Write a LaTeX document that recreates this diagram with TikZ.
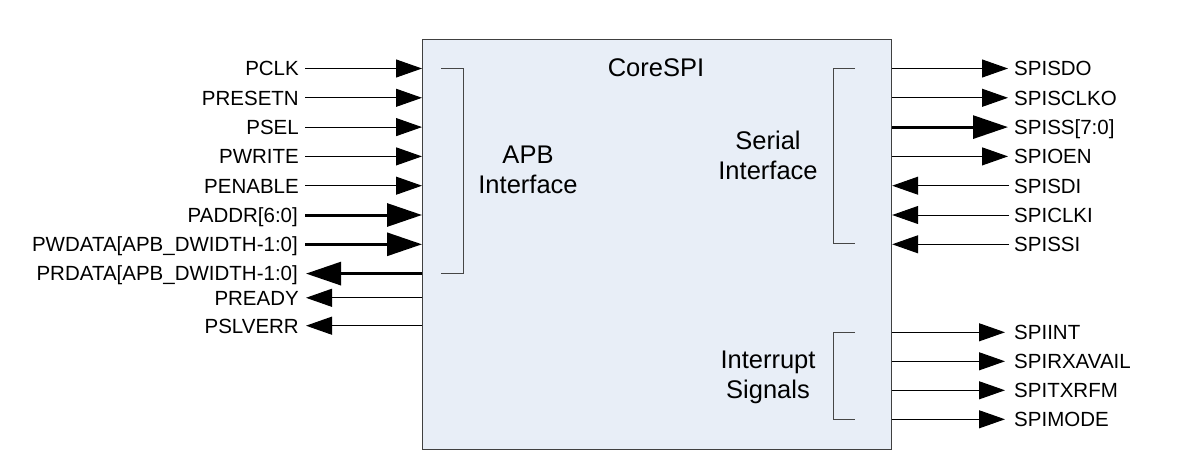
\documentclass[tikz,border=0pt]{standalone}
\usepackage{fontspec}
\setmainfont{Liberation Sans}
\usetikzlibrary{arrows.meta}
\definecolor{boxfill}{RGB}{232,238,247}
\definecolor{boxline}{RGB}{64,64,64}
\definecolor{brkline}{RGB}{70,70,70}
\tikzset{
  lbl/.style={font=\fontsize{20.5}{24}\selectfont, inner sep=0pt, text height=14.7pt, text depth=0pt},
  lblW/.style={lbl, anchor=east},
  lblE/.style={lbl, anchor=west},
  big/.style={font=\fontsize{25.5}{30}\selectfont, inner sep=0pt, text height=18.3pt, text depth=0pt, anchor=center},
  thinsig/.style={line width=1pt, draw=black, -{Triangle[length=26pt,width=18pt]}},
  thicksig/.style={line width=3pt, draw=black, -{Triangle[length=35pt,width=23pt]}},
  brk/.style={line width=1pt, draw=brkline},
}
\begin{document}
\begin{tikzpicture}[x=1pt,y=-1pt]
\useasboundingbox (0,0) rectangle (1193,476);
% main block
\node[draw=boxline, line width=1.2pt, fill=boxfill, minimum width=469pt, minimum height=410pt, inner sep=0pt, anchor=north west] (core) at (422,39) {};
\node[big] (title) at (656,67) {CoreSPI};
\node[big] (apbA) at (528,154) {APB};
\node[big] (apbB) at (528,184) {Interface};
\node[big] (serA) at (768,140) {Serial};
\node[big] (serB) at (768,170) {Interface};
\node[big] (intA) at (768,359.5) {Interrupt};
\node[big] (intB) at (768,389.5) {Signals};
% brackets
\draw[brk] (441,68.3) -- (463,68.3) -- (463,273.5) -- (441,273.5);
\draw[brk] (855,68.3) -- (833,68.3) -- (833,243.5) -- (855,243.5);
\draw[brk] (855,332.3) -- (833,332.3) -- (833,419.5) -- (855,419.5);
% left labels
\node[lblW] (pclk)    at (299,68.5)  {PCLK};
\node[lblW] (presetn) at (299,97.8)  {PRESETN};
\node[lblW] (psel)    at (299,127.1) {PSEL};
\node[lblW] (pwrite)  at (299,156.4) {PWRITE};
\node[lblW] (penable) at (299,185.7) {PENABLE};
\node[lblW] (paddr)   at (298,215)   {PADDR[6:0]};
\node[lblW] (pwdata)  at (298,244.3) {PWDATA[APB\_DWIDTH-1:0]};
\node[lblW] (prdata)  at (298,273.6) {PRDATA[APB\_DWIDTH-1:0]};
\node[lblW] (pready)  at (299,297.8) {PREADY};
\node[lblW] (pslverr) at (299,325.7) {PSLVERR};
% left connectors
\draw[thinsig]  ([xshift=6pt]pclk.east)    -- (pclk.east -| core.west);
\draw[thinsig]  ([xshift=6pt]presetn.east) -- (presetn.east -| core.west);
\draw[thinsig]  ([xshift=6pt]psel.east)    -- (psel.east -| core.west);
\draw[thinsig]  ([xshift=6pt]pwrite.east)  -- (pwrite.east -| core.west);
\draw[thinsig]  ([xshift=6pt]penable.east) -- (penable.east -| core.west);
\draw[thicksig] ([xshift=7pt]paddr.east)   -- (paddr.east -| core.west);
\draw[thicksig] ([xshift=7pt]pwdata.east)  -- (pwdata.east -| core.west);
\draw[thicksig] (prdata.east -| core.west) -- ([xshift=8pt]prdata.east);
\draw[thinsig]  (pready.east -| core.west)  -- ([xshift=7pt]pready.east);
\draw[thinsig]  (pslverr.east -| core.west) -- ([xshift=7pt]pslverr.east);
% right labels
\node[lblE] (spisdo)   at (1014,68.5)  {SPISDO};
\node[lblE] (spisclko) at (1014,97.8)  {SPISCLKO};
\node[lblE] (spiss)    at (1014,127.1) {SPISS[7:0]};
\node[lblE] (spioen)   at (1014,156.4) {SPIOEN};
\node[lblE] (spisdi)   at (1014,185.7) {SPISDI};
\node[lblE] (spiclki)  at (1014,215)   {SPICLKI};
\node[lblE] (spissi)   at (1014,244.3) {SPISSI};
\node[lblE] (spiint)   at (1014,332.3) {SPIINT};
\node[lblE] (spirx)    at (1014,361.3) {SPIRXAVAIL};
\node[lblE] (spitx)    at (1014,390.3) {SPITXRFM};
\node[lblE] (spimode)  at (1014,419.3) {SPIMODE};
% right connectors
\draw[thinsig]  (spisdo.west -| core.east)   -- ([xshift=-6pt]spisdo.west);
\draw[thinsig]  (spisclko.west -| core.east) -- ([xshift=-6pt]spisclko.west);
\draw[thicksig] (spiss.west -| core.east)    -- ([xshift=-6pt]spiss.west);
\draw[thinsig]  (spioen.west -| core.east)   -- ([xshift=-6pt]spioen.west);
\draw[thinsig]  ([xshift=-5pt]spisdi.west)   -- (spisdi.west -| core.east);
\draw[thinsig]  ([xshift=-5pt]spiclki.west)  -- (spiclki.west -| core.east);
\draw[thinsig]  ([xshift=-5pt]spissi.west)   -- (spissi.west -| core.east);
\draw[thinsig]  (spiint.west -| core.east)   -- ([xshift=-9pt]spiint.west);
\draw[thinsig]  (spirx.west -| core.east)    -- ([xshift=-9pt]spirx.west);
\draw[thinsig]  (spitx.west -| core.east)    -- ([xshift=-9pt]spitx.west);
\draw[thinsig]  (spimode.west -| core.east)  -- ([xshift=-9pt]spimode.west);
\end{tikzpicture}
\end{document}
